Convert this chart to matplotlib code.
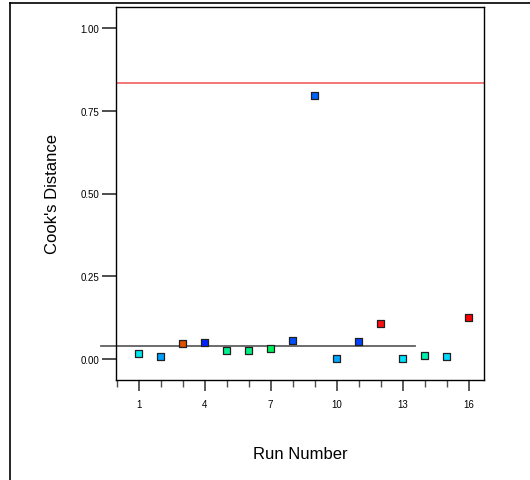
import matplotlib
matplotlib.use('Agg')
import matplotlib.pyplot as plt
from matplotlib.lines import Line2D
from matplotlib.ticker import MultipleLocator

plt.rcParams['font.family'] = ['Liberation Sans', 'DejaVu Sans']

# Data
run_number = list(range(1, 17))
cooks_distance = [0.018, 0.008, 0.046, 0.049, 0.025, 0.025, 0.032, 0.055,
                  0.795, 0.002, 0.052, 0.108, 0.003, 0.010, 0.007, 0.127]
point_colors = ['#00e8f0', '#00a0ff', '#e05000', '#0020ff', '#00f090', '#00f080',
                '#00f060', '#0050ff', '#0060ff', '#00a8ff', '#0040ff', '#ff1010',
                '#00e0ff', '#00f0b0', '#00d8ff', '#ff0000']
limit_line = 0.835
mean_line = 0.040
x_ticks = [1, 4, 7, 10, 13, 16]
y_ticks = [0.00, 0.25, 0.50, 0.75, 1.00]

W, H = 530, 481
fig = plt.figure(figsize=(W / 100, H / 100), dpi=100)
ax = fig.add_axes([116 / W, 1 - 381 / H, (484 - 116) / W, (381 - 8) / H])

# outer frame (only left and top edges visible)
fig.add_artist(Line2D([10 / W, 10 / W], [1 - 4 / H, 0], color='black', lw=1.2))
fig.add_artist(Line2D([10 / W, 1], [1 - 4 / H, 1 - 4 / H], color='black', lw=1.2))

ax.scatter(run_number, cooks_distance, marker='s', s=26, c=point_colors,
           edgecolors='#202020', linewidths=0.9, zorder=3)

ax.axhline(limit_line, color='#f06060', lw=1.2, zorder=2)
ax.plot([-0.7, 13.56], [mean_line, mean_line], color='#606060', lw=1.3,
        clip_on=False, zorder=2)

ax.set_xlim(-0.03, 16.7)
ax.set_ylim(-0.063, 1.063)

ax.set_xticks(x_ticks)
ax.xaxis.set_minor_locator(MultipleLocator(1))
ax.set_yticks(y_ticks)
ax.set_yticklabels([f'{v:.2f}' for v in y_ticks])

ax.tick_params(axis='x', which='major', length=8, width=1.2, color='#404040',
               labelsize=7, pad=6)
ax.tick_params(axis='x', which='minor', length=5, width=1.0, color='#505050')
ax.tick_params(axis='y', which='major', length=10, width=1.2, color='#303030',
               labelsize=7, pad=2)

for sp in ax.spines.values():
    sp.set_linewidth(1.0)

ax.set_xlabel('Run Number', fontsize=12, labelpad=26)
ax.set_ylabel("Cook's Distance", fontsize=12, labelpad=15)

fig.savefig('out.png', dpi=100)
